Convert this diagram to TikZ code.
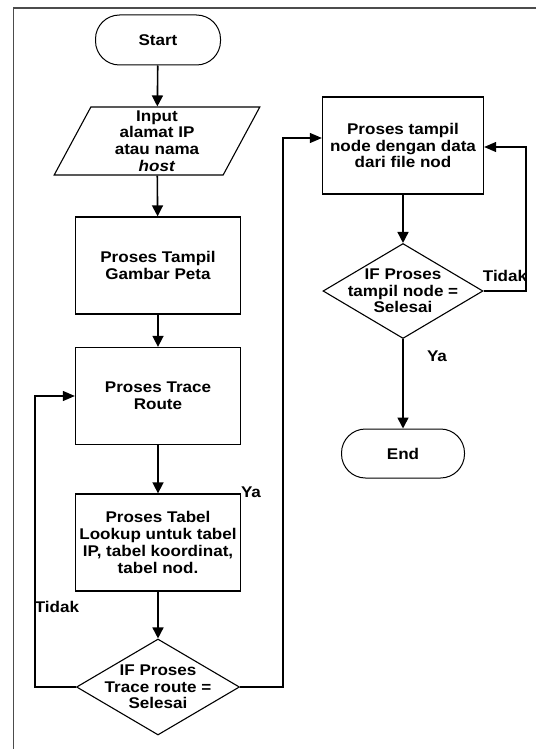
\documentclass[tikz,border=0pt]{standalone}
\usepackage{fontspec}
\setmainfont{Liberation Sans}[FakeStretch=1.1]
\usetikzlibrary{shapes.geometric,arrows.meta}
\begin{document}
\begin{tikzpicture}[x=1pt,y=-1pt,
  txt/.style={font=\fontsize{15.5}{16.7}\selectfont\bfseries, align=center, inner sep=0pt},
  procbox/.style={txt, draw, line width=1.3pt, minimum width=165pt, minimum height=97pt},
  termbox/.style={txt, draw, line width=1pt, rounded corners=24pt, minimum width=125pt, minimum height=50pt},
  decbox/.style={draw, diamond, inner sep=0pt, line width=1.1pt, minimum width=163pt, minimum height=96pt},
  iobox/.style={txt, draw, trapezium, trapezium left angle=69, trapezium right angle=111, trapezium stretches=true, line width=1.1pt, minimum width=206pt, minimum height=68pt},
  flow/.style={line width=1.6pt, -{Triangle[width=11pt,length=11pt]}},
  loopline/.style={line width=1.1pt, -{Triangle[width=10pt,length=12pt]}},
  lbl/.style={txt}]
\fill[white] (0,0) rectangle (536,749);
\useasboundingbox (0,0) rectangle (536,749);
\draw[line width=1.8pt, black!70] (536,8) -- (13.5,8) -- (13.5,749);

% left column
\node[termbox] (start) at (158,40) {Start};
\node[iobox] (input) at (157,141) {Input\\alamat IP\\atau nama\\\textit{host}};
\node[procbox] (b1) at (158,265.5) {Proses Tampil\\Gambar Peta};
\node[procbox] (b2) at (158,396) {Proses Trace\\Route};
\node[procbox] (b3) at (158,542.5) {Proses Tabel\\Lookup untuk tabel\\IP, tabel koordinat,\\tabel nod.};
\node[decbox, label={[txt]center:IF Proses\\Trace route =\\Selesai}] (d1) at (158,687) {};

% right column
\node[procbox, minimum width=161pt] (b4) at (403,145.5) {Proses tampil\\node dengan data\\dari file nod};
\node[decbox, minimum width=160pt, minimum height=95pt, label={[txt]center:IF Proses\\tampil node =\\Selesai}] (d2) at (403,291) {};
\node[termbox, minimum width=123pt, minimum height=49pt] (end) at (403,453.5) {End};

% flow
\draw[flow] (start) -- (input);
\draw[flow] (input) -- (b1);
\draw[flow] (b1) -- (b2);
\draw[flow] (b2) -- (b3);
\draw[flow] (b3) -- (d1);
\draw[flow] (b4) -- (d2);
\draw[flow] (d2) -- (end);

% loops
\coordinate (l1) at (35,396);
\coordinate (r1) at (283,138);
\coordinate (r2) at (526,147);
\draw[loopline] (d1.west) -| (l1) -- (b2.west);
\draw[loopline] (d1.east) -| (r1) -- (b4.west |- r1);
\draw[loopline] (d2.east) -| (r2) -- (b4.east |- r2);

% labels
\node[lbl] (t1) at (57,607) {Tidak};
\node[lbl] (y1) at (251,492) {Ya};
\node[lbl] (t2) at (505,276) {Tidak};
\node[lbl] (y2) at (437,356) {Ya};
\end{tikzpicture}
\end{document}
